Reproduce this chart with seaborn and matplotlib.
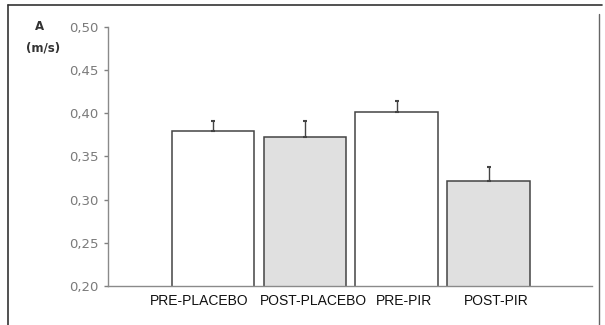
import matplotlib
matplotlib.use("Agg")
import matplotlib.pyplot as plt
import matplotlib.transforms as mtransforms
import seaborn as sns
import pandas as pd
from matplotlib.lines import Line2D

categories = ["PRE-PLACEBO", "POST-PLACEBO", "PRE-PIR", "POST-PIR"]
values = [0.380, 0.373, 0.401, 0.322]
errors = [0.011, 0.018, 0.013, 0.016]
yticks = [0.20, 0.25, 0.30, 0.35, 0.40, 0.45, 0.50]
ytick_labels = ["0,20", "0,25", "0,30", "0,35", "0,40", "0,45", "0,50"]

sns.set_style("white")
plt.rcParams['font.family'] = ['Liberation Sans', 'DejaVu Sans']

df = pd.DataFrame({"cond": categories, "val": values})
fig = plt.figure(figsize=(6.05, 3.25), dpi=100)
ax = fig.add_axes([0.1785, 0.12, 0.80, 0.797])

fills = ["#ffffff", "#e0e0e0", "#ffffff", "#e0e0e0"]
sns.barplot(data=df, x="cond", y="val", hue="cond", palette=fills, legend=False,
            width=0.9, edgecolor="#444444", linewidth=1.1, errorbar=None, ax=ax)

xs = range(len(categories))
ax.errorbar(list(xs), values, yerr=[[0] * len(errors), errors], fmt="none",
            ecolor="#444444", elinewidth=1.0, capsize=1.5, capthick=1.5)

ax.set_ylim(0.20, 0.50)
ax.set_xlim(-1.144, 4.127)
ax.set_yticks(yticks)
ax.set_yticklabels(ytick_labels, fontsize=9.5, color="#7a7a7a", family="DejaVu Sans")
ax.set_xlabel("")
ax.set_ylabel("")
ax.tick_params(axis="x", length=0, pad=6, labelsize=10, labelcolor="#111111")
ax.tick_params(axis="y", length=3, width=1, color="#808080", direction="out", pad=4, left=True)
for s in ["top", "right"]:
    ax.spines[s].set_visible(False)
for s in ["left", "bottom"]:
    ax.spines[s].set_color("#8a8a8a")
    ax.spines[s].set_linewidth(1.0)

# label offsets (in points) to mimic the hand-placed text boxes of the original
label_shift_pts = [-10, 6, 5.5, 5.5]
for lab, dx in zip(ax.get_xticklabels(), label_shift_pts):
    lab.set_transform(lab.get_transform() +
                      mtransforms.ScaledTranslation(dx / 72, 0, fig.dpi_scale_trans))

fig.text(0.066, 0.917, "A", fontsize=8.5, fontweight="bold", color="#333333",
         ha="center", va="center", family="DejaVu Sans")
fig.text(0.071, 0.852, "(m/s)", fontsize=8.5, fontweight="bold", color="#333333",
         ha="center", va="center", family="DejaVu Sans")

# outer frame
fig.add_artist(Line2D([0.013, 0.995], [0.985, 0.985], transform=fig.transFigure,
                      color="#333333", linewidth=1.2))
fig.add_artist(Line2D([0.013, 0.013], [0.985, 0.0], transform=fig.transFigure,
                      color="#333333", linewidth=1.2))
fig.add_artist(Line2D([0.99, 0.99], [0.957, 0.0], transform=fig.transFigure,
                      color="#666666", linewidth=1.0))

fig.savefig("out.png", dpi=100)
